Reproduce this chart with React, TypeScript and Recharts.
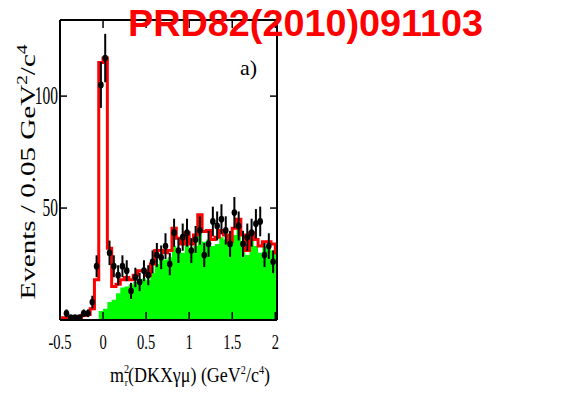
import React from 'react';
import { ComposedChart, Line, Area, Scatter, ErrorBar, XAxis, YAxis } from 'recharts';

// Bin left edges (width 0.05 GeV^2/c^4)
const binStarts = [
  -0.5, -0.45, -0.4, -0.35, -0.3, -0.25, -0.2, -0.15, -0.1, -0.05,
  0, 0.05, 0.1, 0.15, 0.2, 0.25, 0.3, 0.35, 0.4, 0.45,
  0.5, 0.55, 0.6, 0.65, 0.7, 0.75, 0.8, 0.85, 0.9, 0.95,
  1.0, 1.05, 1.1, 1.15, 1.2, 1.25, 1.3, 1.35, 1.4, 1.45,
  1.5, 1.55, 1.6, 1.65, 1.7, 1.75, 1.8, 1.85, 1.9, 1.95,
  2.0,
];
const binEnd = 2.05;

// Total fit (red step histogram)
const fitValues = [
  1, 1, 1, 1, 1, 2, 2.5, 5, 18, 115,
  117, 32, 15, 16, 18, 19, 18, 20, 22, 22,
  20, 25, 31, 31, 30, 31, 41, 36.5, 34, 39,
  34, 38, 47, 39.5, 40, 36, 37, 40, 38, 35,
  41, 45, 38, 31, 39, 36, 33, 35, 35, 34,
  30,
];

// Background component (green filled histogram)
const bkgValues = [
  0, 0, 0, 0, 0, 0, 0, 0, 0, 4,
  5, 8, 9, 12, 14.5, 15, 16, 17, 18, 18.5,
  18, 21, 25, 27, 27, 28, 33, 32, 30, 34,
  30, 33, 46, 35, 36, 33, 34, 37, 36, 33,
  38, 42, 35, 29, 36, 33, 30, 33, 33, 31,
  30,
];

// Data points (bin centres and counts)
const pointCenters = [
  -0.425, -0.375, -0.325, -0.275, -0.225, -0.175, -0.125, -0.075, -0.025,
  0.025, 0.075, 0.125, 0.175, 0.225, 0.275, 0.325, 0.375, 0.425, 0.475,
  0.525, 0.575, 0.625, 0.675, 0.725, 0.775, 0.825, 0.875, 0.925, 0.975,
  1.025, 1.075, 1.125, 1.175, 1.225, 1.275, 1.325, 1.375, 1.425, 1.475,
  1.525, 1.575, 1.625, 1.675, 1.725, 1.775, 1.825, 1.875, 1.925, 1.975,
];
const pointValues = [
  3, 1, 1, 1, 3, 3, 8, 24, 105,
  117, 30, 24, 20, 24, 22, 13, 19, 17, 22,
  20, 26, 29, 28, 33, 25, 39, 31, 37, 39,
  31, 36, 40, 29, 34, 44, 42, 45, 40, 34,
  48, 42, 34, 37, 39, 43, 44, 29, 33, 26,
];

const xTicks = [-0.5, 0, 0.5, 1, 1.5, 2];
const yTicks = [50, 100];
const xDomain = [-0.5, 2.02];
const yDomain = [0, 134];

const histData = [
  ...binStarts.map((x, i) => ({ x, fit: fitValues[i], bkg: bkgValues[i] })),
  { x: binEnd, fit: fitValues[fitValues.length - 1], bkg: bkgValues[bkgValues.length - 1] },
];
const pointData = pointCenters.map((x, i) => ({ x, y: pointValues[i], err: Math.sqrt(pointValues[i]) }));

const SERIF = '"Liberation Serif", "Times New Roman", serif';

const BottomTick = (props: any) => {
  const { x, y, payload } = props;
  return (
    <g>
      <line x1={x} y1={y} x2={x} y2={y - 8} stroke="#000" strokeWidth={1.5} />
      <g transform={`translate(${x},${y + 29}) scale(0.66,1)`}>
        <text x={0} y={0} textAnchor="middle" fontFamily={SERIF} fontSize={22} fill="#000">
          {String(payload.value)}
        </text>
      </g>
    </g>
  );
};

const TopTick = (props: any) => {
  const { x, y } = props;
  return <line x1={x} y1={y} x2={x} y2={y + 8} stroke="#000" strokeWidth={1.5} />;
};

const LeftTick = (props: any) => {
  const { x, y, payload } = props;
  return (
    <g>
      <line x1={x} y1={y} x2={x + 7} y2={y} stroke="#000" strokeWidth={1.5} />
      <g transform={`translate(${x - 2},${y + 8}) scale(0.62,1)`}>
        <text x={0} y={0} textAnchor="end" fontFamily={SERIF} fontSize={25} fill="#000">
          {String(payload.value)}
        </text>
      </g>
    </g>
  );
};

const RightTick = (props: any) => {
  const { x, y } = props;
  return <line x1={x} y1={y} x2={x - 7} y2={y} stroke="#000" strokeWidth={1.5} />;
};

const Dot = (props: any) => {
  const { cx, cy } = props;
  if (cx == null || cy == null) return null;
  return <ellipse cx={cx} cy={cy} rx={2.8} ry={3.4} fill="#000" />;
};

export default function App() {
  return (
    <div style={{ position: 'relative', width: 567, height: 394, background: '#fff' }}>
      <style>{'body{margin:0;background:#fff}'}</style>
      <ComposedChart
        width={567}
        height={394}
        margin={{ top: 10, right: 280, bottom: 34, left: 20 }}
      >
        <XAxis
          type="number"
          dataKey="x"
          domain={xDomain}
          allowDataOverflow
          ticks={xTicks}
          interval={0}
          height={40}
          tickSize={0}
          tickMargin={0}
          tickLine={false}
          axisLine={{ stroke: '#000', strokeWidth: 2 }}
          tick={(p: any) => <BottomTick {...p} />}
        />
        <XAxis
          xAxisId="top"
          orientation="top"
          type="number"
          dataKey="x"
          domain={xDomain}
          allowDataOverflow
          ticks={xTicks}
          interval={0}
          height={10}
          tickSize={0}
          tickMargin={0}
          tickLine={false}
          axisLine={{ stroke: '#000', strokeWidth: 2 }}
          tick={(p: any) => <TopTick {...p} />}
        />
        <YAxis
          type="number"
          domain={yDomain}
          allowDataOverflow
          ticks={yTicks}
          interval={0}
          width={40}
          tickSize={0}
          tickMargin={0}
          tickLine={false}
          axisLine={{ stroke: '#000', strokeWidth: 2 }}
          tick={(p: any) => <LeftTick {...p} />}
        />
        <YAxis
          yAxisId="right"
          orientation="right"
          type="number"
          domain={yDomain}
          allowDataOverflow
          ticks={yTicks}
          interval={0}
          width={10}
          tickSize={0}
          tickMargin={0}
          tickLine={false}
          axisLine={{ stroke: '#000', strokeWidth: 2 }}
          tick={(p: any) => <RightTick {...p} />}
        />
        <Area
          data={histData}
          dataKey="bkg"
          type="stepAfter"
          fill="#00ff00"
          fillOpacity={1}
          stroke="none"
          isAnimationActive={false}
        />
        <Line
          data={histData}
          dataKey="fit"
          type="stepAfter"
          stroke="#ff0000"
          strokeWidth={3}
          dot={false}
          isAnimationActive={false}
        />
        <Line
          data={histData}
          dataKey="fit"
          xAxisId="top"
          yAxisId="right"
          stroke="none"
          dot={false}
          activeDot={false}
          isAnimationActive={false}
        />
        <Scatter
          data={pointData}
          dataKey="y"
          fill="#000"
          shape={(p: any) => <Dot {...p} />}
          isAnimationActive={false}
        >
          <ErrorBar dataKey="err" direction="y" width={0} stroke="#000" strokeWidth={2} />
        </Scatter>
      </ComposedChart>
      <svg
        width={567}
        height={394}
        style={{ position: 'absolute', left: 0, top: 0, pointerEvents: 'none' }}
      >
        <text
          x={128}
          y={36}
          fontFamily='"Liberation Sans", Arial, sans-serif'
          fontWeight="bold"
          fontSize={37}
          fill="#ff0000"
          textLength={355}
          lengthAdjust="spacingAndGlyphs"
        >
          PRD82(2010)091103
        </text>
        <text x={240} y={75} fontFamily={SERIF} fontSize={22} fill="#000">
          a)
        </text>
        <text
          transform="translate(35,172) rotate(-90)"
          textAnchor="middle"
          fontFamily={SERIF}
          fontSize={21}
          fill="#000"
          textLength={255}
          lengthAdjust="spacingAndGlyphs"
        >
          Events / 0.05 GeV
          <tspan dy={-8} fontSize={14}>2</tspan>
          <tspan dy={8}>/c</tspan>
          <tspan dy={-8} fontSize={14}>4</tspan>
        </text>
        <text
          x={190}
          y={382}
          textAnchor="middle"
          fontFamily={SERIF}
          fontSize={21}
          fill="#000"
          textLength={160}
          lengthAdjust="spacingAndGlyphs"
        >
          m
          <tspan dy={-9} fontSize={12}>2</tspan>
          <tspan dx={-5} dy={13} fontSize={11}>r</tspan>
          <tspan dy={-4}>(DKXγμ) (GeV</tspan>
          <tspan dy={-8} fontSize={12}>2</tspan>
          <tspan dy={8}>/c</tspan>
          <tspan dy={-8} fontSize={12}>4</tspan>
          <tspan dy={8}>)</tspan>
        </text>
      </svg>
    </div>
  );
}
